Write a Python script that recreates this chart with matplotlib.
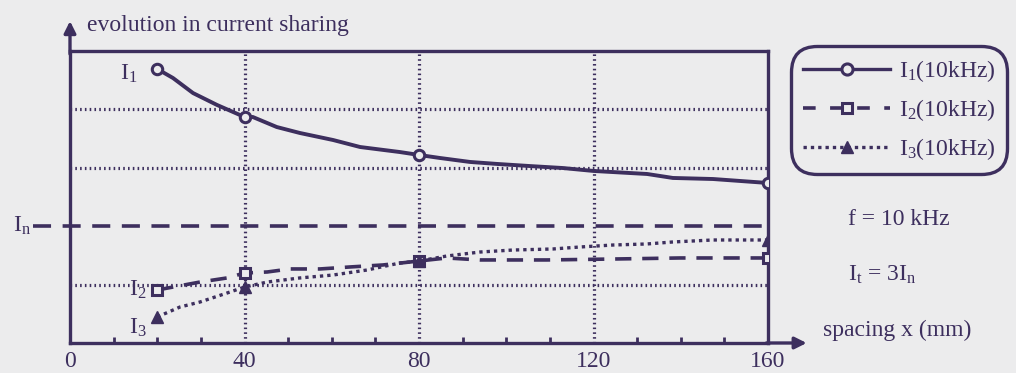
import numpy as np
import matplotlib
matplotlib.use("Agg")
import matplotlib.pyplot as plt
from matplotlib.lines import Line2D

plt.rcParams["font.family"] = ["Liberation Serif", "DejaVu Serif"]
plt.rcParams["mathtext.fontset"] = "custom"
plt.rcParams["mathtext.rm"] = "Liberation Serif"
plt.rcParams["mathtext.it"] = "Liberation Serif"

INK = "#3d2f5e"
PAPER = "#ececed"

# current sharing vs spacing, currents expressed in units of In (I1 + I2 + I3 = 3 In)
x_i1 = [20, 23.6, 28.2, 33.7, 40, 41.9, 47.4, 52.7, 60.3, 66.5, 75.6, 80, 84.8, 91.7,
        97.9, 105.4, 113, 120, 132.3, 138.2, 147.4, 160]
i1 = [2.346, 2.269, 2.140, 2.038, 1.935, 1.935, 1.849, 1.798, 1.738, 1.678, 1.635, 1.610,
      1.584, 1.550, 1.533, 1.515, 1.498, 1.473, 1.447, 1.413, 1.404, 1.370]

x_i2 = [20, 29.8, 36, 40, 45.2, 50.4, 57.3, 64.2, 71.7, 80, 86.4, 94, 109.3, 124.5, 139.8, 160]
i2 = [0.454, 0.522, 0.557, 0.599, 0.608, 0.634, 0.634, 0.651, 0.668, 0.702, 0.728, 0.711,
      0.711, 0.719, 0.728, 0.728]

x_i3 = [20, 25.2, 29.8, 36, 40, 45.2, 52.7, 60.3, 68.1, 75.6, 80, 86.4, 94, 101.5, 110.7,
        116.9, 124.5, 132.3, 138.2, 147.4, 160]
i3 = [0.223, 0.308, 0.351, 0.428, 0.479, 0.522, 0.557, 0.582, 0.625, 0.685, 0.702, 0.745,
      0.779, 0.796, 0.805, 0.822, 0.839, 0.848, 0.865, 0.882, 0.882]

i_nominal = 1.0
x_ticks = [0, 40, 80, 120, 160]
x_minor = [10, 20, 30, 50, 60, 70, 90, 100, 110, 130, 140, 150]
grid_x = [40, 80, 120]
grid_y = [0.5, 1.5, 2.0]

FS = 17

fig = plt.figure(figsize=(10.16, 3.73), dpi=100, facecolor=PAPER)
ax = fig.add_axes([70 / 1016, 30 / 373, 698 / 1016, 292 / 373])
ax.set_facecolor(PAPER)
ax.set_xlim(0, 160)
ax.set_ylim(0, 2.5)

for s in ax.spines.values():
    s.set_color(INK)
    s.set_linewidth(2.4)

# dotted grid
for gx in grid_x:
    ax.axvline(gx, color=INK, lw=2.3, ls=(0, (0.5, 1.0)), zorder=1)
for gy in grid_y:
    ax.axhline(gy, color=INK, lw=2.3, ls=(0, (0.5, 1.0)), zorder=1)

# nominal current line, runs out past the y axis
ax.plot([-8.5, 160], [i_nominal, i_nominal], color=INK, lw=2.6, ls=(0, (5, 3.2)),
        clip_on=False, zorder=2)

ax.plot(x_i1, i1, color=INK, lw=2.8, marker="o", markevery=[0, 4, 11, 21], ms=7.5,
        mfc=PAPER, mec=INK, mew=2.2, zorder=4)
ax.plot(x_i2, i2, color=INK, lw=2.6, ls=(0, (4.5, 3)), marker="s", markevery=[0, 3, 9, 15],
        ms=7, mfc=PAPER, mec=INK, mew=2.2, zorder=4)
ax.plot(x_i3, i3, color=INK, lw=2.4, ls=(0, (1, 1.2)), marker="^", markevery=[0, 4, 10, 20],
        ms=9, mfc=INK, mec=INK, zorder=4)

ax.set_xticks(x_ticks)
ax.set_xticklabels([str(v) for v in x_ticks])
ax.set_xticks(x_minor, minor=True)
ax.tick_params(axis="x", which="major", length=0, pad=6, labelsize=FS, labelcolor=INK)
ax.tick_params(axis="x", which="minor", direction="in", length=4, width=2, color=INK)
ax.set_yticks([])

# axis arrows
ax.annotate("", xy=(0, 2.78), xytext=(0, 2.45), annotation_clip=False,
            arrowprops=dict(arrowstyle="-|>,head_length=0.7,head_width=0.35", color=INK, lw=2.4))
ax.annotate("", xy=(169.5, 0), xytext=(159, 0), annotation_clip=False,
            arrowprops=dict(arrowstyle="-|>,head_length=0.7,head_width=0.35", color=INK, lw=2.4))

txt = dict(color=INK, fontsize=FS)
fig.text(87 / 1016, 1 - 25 / 373, "evolution in current sharing", va="center", ha="left", **txt)
fig.text(823 / 1016, 1 - 330 / 373, "spacing x (mm)", va="center", ha="left", **txt)
fig.text(848 / 1016, 1 - 220 / 373, "f = 10 kHz", va="center", ha="left", **txt)
fig.text(848 / 1016, 1 - 275 / 373, r"I$_{\rm t}$ = 3I$_{\rm n}$", va="center", ha="left", **txt)

ax.text(-9, i_nominal, r"I$_{\rm n}$", va="center", ha="right", **txt)
ax.text(15.5, i1[0] - 0.04, r"I$_{\rm 1}$", va="center", ha="right", **txt)
ax.text(17.5, i2[0] + 0.0, r"I$_{\rm 2}$", va="center", ha="right", **txt)
ax.text(17.5, i3[0] - 0.09, r"I$_{\rm 3}$", va="center", ha="right", **txt)

handles = [
    Line2D([], [], color=INK, lw=2.4, marker="o", ms=8, mfc=PAPER, mec=INK, mew=2.2),
    Line2D([], [], color=INK, lw=2.6, ls=(0, (3.5, 4)), marker="s", ms=7, mfc=PAPER, mec=INK, mew=2.2),
    Line2D([], [], color=INK, lw=2.4, ls=(0, (1, 1.2)), marker="^", ms=9, mfc=INK, mec=INK),
]
labels = [r"I$_{\rm 1}$(10kHz)", r"I$_{\rm 2}$(10kHz)", r"I$_{\rm 3}$(10kHz)"]
leg = fig.legend(handles, labels, loc="upper left", bbox_to_anchor=(796 / 1016, 1 - 51 / 373),
                 fontsize=FS, handlelength=3.7, handletextpad=0.35, labelspacing=0.55,
                 borderpad=0.3, frameon=True, fancybox=True, facecolor=PAPER, edgecolor=INK,
                 framealpha=1, borderaxespad=0)
for t in leg.get_texts():
    t.set_color(INK)
frame = leg.get_frame()
frame.set_linewidth(2.4)
frame.set_boxstyle("round,pad=0.2,rounding_size=1.1")

fig.savefig("out.png", dpi=100, facecolor=PAPER)
